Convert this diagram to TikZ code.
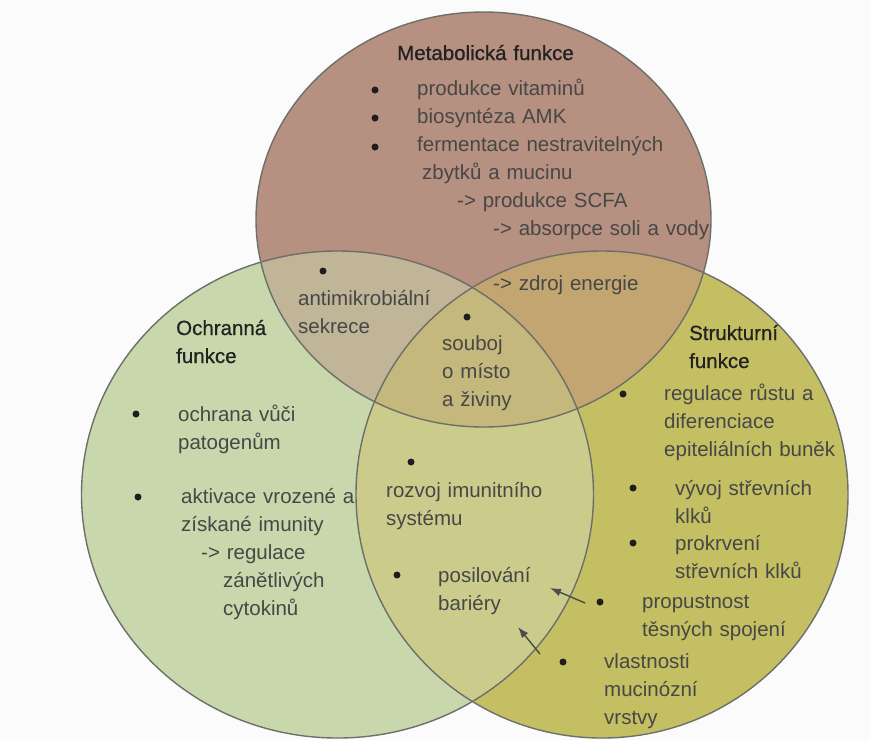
\documentclass[tikz,border=0pt]{standalone}
\usepackage{fontspec}
\setmainfont{Liberation Sans}
\newfontfamily\headfont{Liberation Sans}[RawFeature={embolden=0.7}]
\usepackage{xcolor}
\usetikzlibrary{arrows.meta}
\definecolor{bgcol}{HTML}{FBFBFB}
\definecolor{metcol}{HTML}{B69080}
\definecolor{ochcol}{HTML}{C8D8AC}
\definecolor{strcol}{HTML}{C4BF63}
\definecolor{mocol}{HTML}{C1B597}
\definecolor{mscol}{HTML}{C2A571}
\definecolor{oscol}{HTML}{CBCC8C}
\definecolor{allcol}{HTML}{C4B87C}
\definecolor{edgecol}{HTML}{6E6E6A}
\definecolor{arrcol}{HTML}{4C4C4C}
\definecolor{txtcol}{HTML}{474747}
\definecolor{headcol}{HTML}{222222}
\definecolor{dotcol}{HTML}{1E1E1E}
\tikzset{
x=1pt, y=-1pt, % one unit is one pixel of the sketch, y goes down
>={Latex[length=11pt,width=8pt]}, % filled arrow heads
txt/.style={anchor=base west, align=left, text width=330pt, inner sep=0pt, text=txtcol, font=\fontsize{20.5}{28}\selectfont}, % body text, first line on the given point
head/.style={txt, text=headcol, font=\fontsize{20.5}{28}\headfont}, % circle titles
dot/.style={circle, inner sep=0pt, minimum size=7pt, fill=dotcol}, % bullet points
ring/.style={draw=edgecol, line width=1.4pt}, % circle outlines
}
\def\metring{(483.5,219.5) ellipse [x radius=227.5, y radius=207.5]}
\def\ochring{(337.5,494.5) ellipse [x radius=256, y radius=243.5]}
\def\strring{(602,494.5) ellipse [x radius=246, y radius=243.5]}

\begin{document}
\begin{tikzpicture}
    \useasboundingbox[fill=bgcol] (0,0) rectangle (870,740);
    % areas
    \fill[metcol] \metring;
    \fill[ochcol] \ochring;
    \fill[strcol] \strring;
    \begin{scope}
        \clip \metring;
        \fill[mocol] \ochring;
        \fill[mscol] \strring;
    \end{scope}
    \begin{scope}
        \clip \ochring;
        \fill[oscol] \strring;
        \clip \metring;
        \fill[allcol] \strring;
    \end{scope}
    \draw[ring] \metring;
    \draw[ring] \ochring;
    \draw[ring] \strring;

    % metabolic
    \node[head] (met) at (397,60) {Metabolická funkce};
    \node[dot] (m1) at (375,90) {};
    \node[dot] (m2) at (375,118) {};
    \node[dot] (m3) at (375,147) {};
    \node[txt] (mtxt) at (417,95) {produkce vitaminů\\biosyntéza AMK\\fermentace nestravitelných\\\hspace{5pt}zbytků a mucinu\\\hspace{40pt}-> produkce SCFA\\\hspace{76pt}-> absorpce soli a vody};
    \node[txt] (energ) at (493,290) {-> zdroj energie};

    % overlaps
    \node[dot] (a1) at (323,271) {};
    \node[txt] (anti) at (298,305) {antimikrobiální\\sekrece};
    \node[dot] (s1) at (467,317) {};
    \node[txt] (soub) at (442,350) {souboj\\o místo\\a živiny};
    \node[dot] (r1) at (411,462) {};
    \node[txt] (imun) at (386,497) {rozvoj imunitního\\systému};
    \node[dot] (r2) at (397,575) {};
    \node[txt] (bar) at (438,582) {posilování\\bariéry};

    % protective
    \node[head] (och) at (176,335) {Ochranná\\funkce};
    \node[dot] (o1) at (136,414) {};
    \node[txt] (pat) at (178,421) {ochrana vůči\\patogenům};
    \node[dot] (o2) at (138,497) {};
    \node[txt] (akt) at (181,503) {aktivace vrozené a\\získané imunity\\\hspace{20pt}-> regulace\\\hspace{42pt}zánětlivých\\\hspace{42pt}cytokinů};

    % structural
    \node[head] (str) at (689,340) {Strukturní\\funkce};
    \node[dot] (t1) at (623,394) {};
    \node[txt] (rust) at (664,400) {regulace růstu a\\diferenciace\\epiteliálních buněk};
    \node[dot] (t2) at (633,488) {};
    \node[txt] (klk) at (675,495) {vývoj střevních\\klků};
    \node[dot] (t3) at (633,543) {};
    \node[txt] (krv) at (675,550) {prokrvení\\střevních klků};
    \node[dot] (t4) at (600,602) {};
    \node[txt] (prop) at (642,608) {propustnost\\těsných spojení};
    \node[dot] (t5) at (563,662) {};
    \node[txt] (muc) at (604,668) {vlastnosti\\mucinózní\\vrstvy};

    \coordinate (p1) at (585,603);
    \coordinate (q1) at (550,588);
    \coordinate (p2) at (540,654);
    \coordinate (q2) at (518,627);
    \draw[->, draw=arrcol, fill=arrcol, line width=1.4pt] (p1) -- (q1);
    \draw[->, draw=arrcol, fill=arrcol, line width=1.4pt] (p2) -- (q2);
\end{tikzpicture}
\end{document}
